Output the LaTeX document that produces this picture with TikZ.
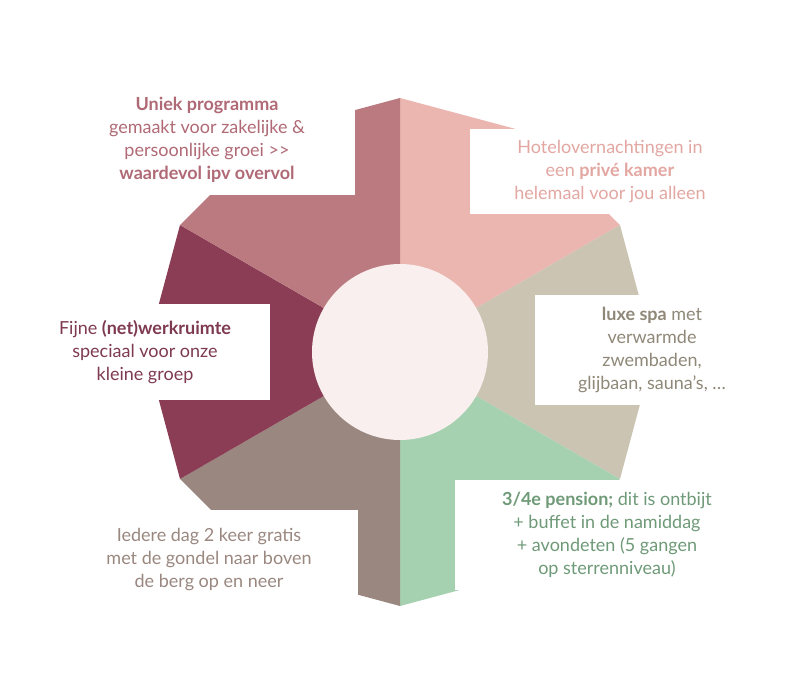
\documentclass[tikz,border=0pt]{standalone}
\usepackage{fontspec}
\setmainfont{Lato}
\begin{document}
\begin{tikzpicture}[x=1pt,y=1pt,
  box/.style={fill=white,inner sep=0pt,align=center,font=\fontsize{18}{23}\selectfont},
]
\useasboundingbox (0,-700) rectangle (800,0);
\definecolor{cA}{HTML}{EBB5B0}\definecolor{cB}{HTML}{CBC4B2}
\definecolor{cC}{HTML}{A6D1B0}\definecolor{cD}{HTML}{9A8880}
\definecolor{cE}{HTML}{8A3D55}\definecolor{cF}{HTML}{BA7A80}
\definecolor{tA}{HTML}{E3A7A2}\definecolor{tB}{HTML}{8F8878}
\definecolor{tC}{HTML}{6F9A78}\definecolor{tD}{HTML}{9A8880}
\definecolor{tE}{HTML}{7E3A50}\definecolor{tF}{HTML}{B06A75}
\definecolor{cCtr}{HTML}{F8EFEE}
\coordinate (c) at (400,-352);
\def\R{254}
\foreach \a/\col in {90/cA,30/cB,-30/cC,-90/cD,-150/cE,150/cF}{
  \fill[\col] (c) -- +(\a:\R) -- +({\a-30}:\R) -- +({\a-60}:\R) -- cycle;
}
\node[circle,fill=cCtr,minimum size=176pt] (ctr) at (c) {};
\node[box,text=tF,minimum width=295pt,minimum height=110pt] (bF) at (207,-140)
 {\textbf{Uniek programma}\\gemaakt voor zakelijke \&\\persoonlijke groei >{}>\\\textbf{waardevol ipv overvol}};
\node[box,text=tA,minimum width=280pt,minimum height=85pt] (bA) at (610,-172)
 {Hotelovernachtingen in\\een \textbf{privé kamer}\\helemaal voor jou alleen};
\node[box,text=tB,minimum width=235pt,minimum height=110pt] (bB) at (652,-350)
 {\textbf{luxe spa} met\\verwarmde\\zwembaden,\\glijbaan, sauna’s, …};
\node[box,text=tC,minimum width=305pt,minimum height=110pt] (bC) at (607,-535)
 {\textbf{3/4e pension;} dit is ontbijt\\+ buffet in de namiddag\\+ avondeten (5 gangen\\op sterrenniveau)};
\node[box,text=tD,minimum width=298pt,minimum height=100pt] (bD) at (209,-560)
 {Iedere dag 2 keer gratis\\met de gondel naar boven\\de berg op en neer};
\node[box,text=tE,minimum width=250pt,minimum height=95pt] (bE) at (145,-352)
 {Fijne \textbf{(net)werkruimte}\\speciaal voor onze\\kleine groep};
\end{tikzpicture}
\end{document}
